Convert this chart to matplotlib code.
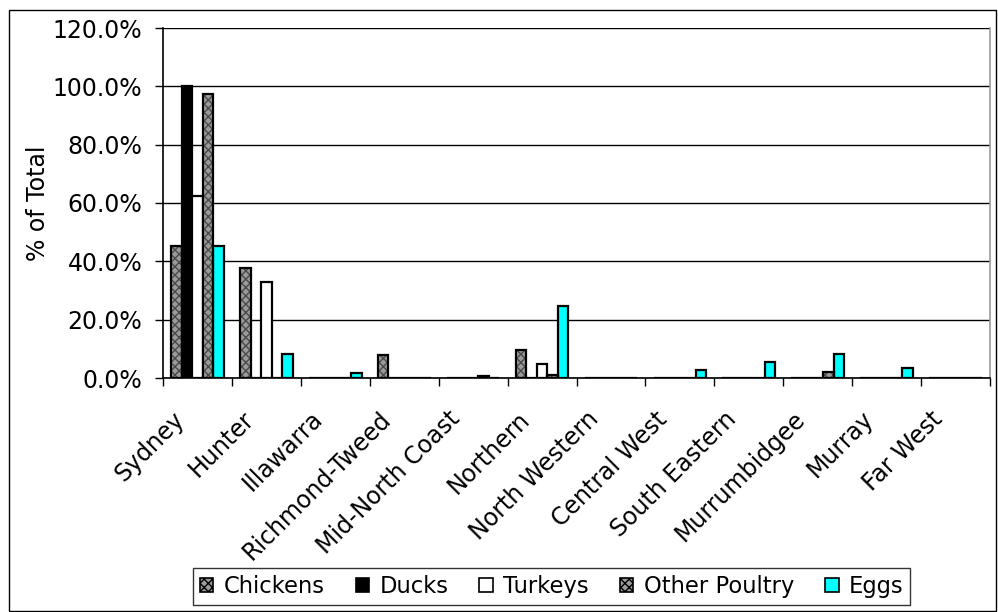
import numpy as np
import matplotlib
matplotlib.use('Agg')
import matplotlib.pyplot as plt
import matplotlib.transforms as mtransforms
from matplotlib.patches import Patch, Rectangle

regions = ['Sydney', 'Hunter', 'Illawarra', 'Richmond-Tweed', 'Mid-North Coast',
           'Northern', 'North Western', 'Central West', 'South Eastern',
           'Murrumbidgee', 'Murray', 'Far West']

chickens = [45.3, 37.6, 0.0, 7.8, 0.0, 9.6, 0.0, 0.0, 0.0, 0.0, 0.0, 0.0]
ducks = [100.0, 0.0, 0.0, 0.0, 0.0, 0.0, 0.0, 0.0, 0.0, 0.0, 0.0, 0.0]
turkeys = [62.3, 33.0, 0.0, 0.0, 0.0, 4.8, 0.0, 0.0, 0.0, 0.0, 0.0, 0.0]
other_poultry = [97.4, 0.0, 0.0, 0.0, 0.8, 1.0, 0.0, 0.0, 0.0, 2.2, 0.0, 0.0]
eggs = [45.3, 8.1, 1.6, 0.0, 0.0, 24.8, 0.0, 2.7, 5.5, 8.2, 3.4, 0.0]

series = [('Chickens', chickens), ('Ducks', ducks), ('Turkeys', turkeys),
          ('Other Poultry', other_poultry), ('Eggs', eggs)]
# face colour, hatch for each series
styles = {
    'Chickens': ('#9a9a9a', 'xxxx'),
    'Ducks': ('black', None),
    'Turkeys': ('white', None),
    'Other Poultry': ('#9a9a9a', 'xxxx'),
    'Eggs': ('#00ffff', None),
}

plt.rcParams['font.family'] = 'DejaVu Sans'
FS = 17

fig = plt.figure(figsize=(9.98, 6.12), dpi=100)
ax = fig.add_axes([163/998, 1 - 378/612, (990-163)/998, (378-28)/612])

x = np.arange(len(regions))
w = 0.153
for i, (name, vals) in enumerate(series):
    pos = x + (i - 2) * w
    fc, hatch = styles[name]
    if hatch:
        ax.bar(pos, vals, w, color=fc, hatch=hatch, edgecolor='#4a4a4a',
               linewidth=0, zorder=3)
        ax.bar(pos, vals, w, fill=False, edgecolor='black', linewidth=1.6, zorder=4)
    else:
        ax.bar(pos, vals, w, color=fc, edgecolor='black', linewidth=1.6, zorder=3)

ax.set_xlim(-0.5, len(regions) - 0.5)
ax.set_ylim(0, 120)
ax.set_yticks(np.arange(0, 121, 20))
ax.set_yticklabels(['%.1f%%' % v for v in np.arange(0, 121, 20)], fontsize=FS)
ax.yaxis.grid(True, color='black', linewidth=1.0, zorder=0)
ax.set_axisbelow(True)

# category boundaries carry the tick marks, names sit at the centres
ax.set_xticks(np.arange(-0.5, len(regions), 1.0))
ax.set_xticklabels([])
ax.set_xticks(x, minor=True)
ax.set_xticklabels(regions, minor=True, rotation=45, ha='right',
                   rotation_mode='anchor', fontsize=FS)
ax.tick_params(axis='x', which='minor', length=0, pad=10)
ax.tick_params(axis='x', which='major', length=6, width=1, direction='out')
ax.tick_params(axis='y', length=6, width=1, direction='out', pad=9)

shift = mtransforms.ScaledTranslation(-0.25, -0.15, fig.dpi_scale_trans)
for lbl in ax.get_xticklabels(minor=True):
    lbl.set_transform(lbl.get_transform() + shift)

ax.set_ylabel('% of Total', fontsize=FS, labelpad=2)

ax.spines['top'].set_visible(False)
ax.spines['right'].set_color('#999999')
ax.spines['right'].set_linewidth(1.2)
ax.spines['left'].set_linewidth(1.2)
ax.spines['bottom'].set_linewidth(1.2)

handles = [Patch(facecolor=styles[n][0], hatch=styles[n][1], edgecolor='black',
                 linewidth=1.2, label=n) for n, _ in series]
leg = fig.legend(handles=handles, loc='center left', ncol=5,
                 bbox_to_anchor=(193/998, 1 - 586.5/612), frameon=True,
                 fontsize=16.3, handlelength=0.6, handleheight=0.6,
                 handletextpad=0.45, columnspacing=1.37, borderpad=0.3,
                 borderaxespad=0, fancybox=False, edgecolor='black')
leg.get_frame().set_linewidth(1.0)

# outer chart border
fig.patches.append(Rectangle((9/998, 1/612), 987/998, 601/612,
                             transform=fig.transFigure, fill=False,
                             edgecolor='black', linewidth=1.0))

fig.savefig('out.png', dpi=100)
